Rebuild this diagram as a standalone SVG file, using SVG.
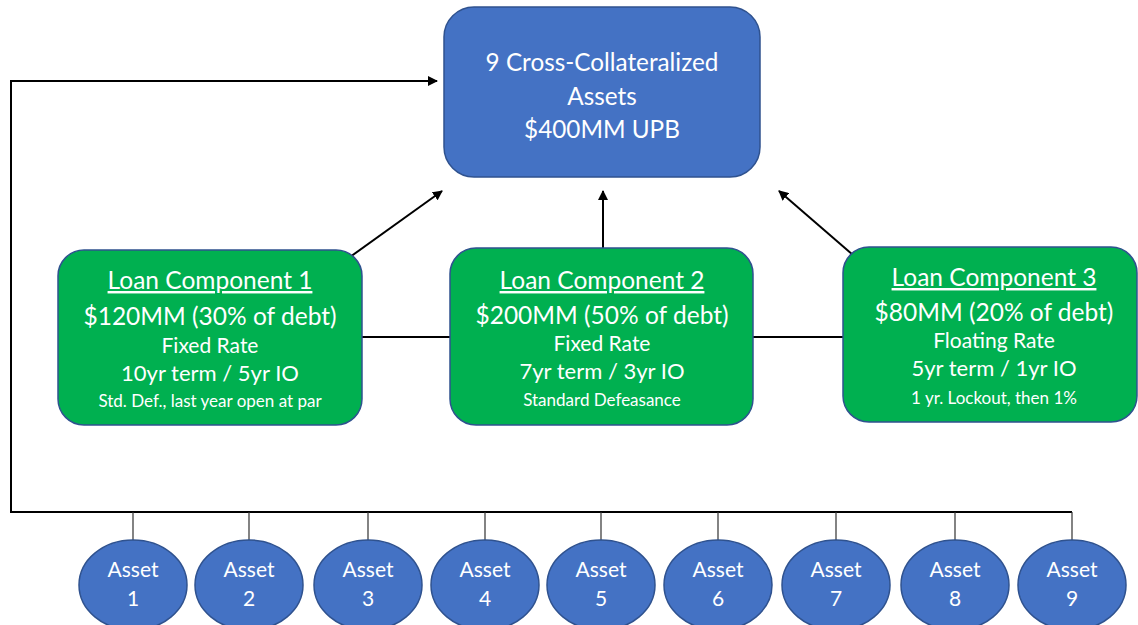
<svg xmlns="http://www.w3.org/2000/svg" width="1138" height="625" viewBox="0 0 1138 625">
<style>
.blue{fill:#4472C4;stroke:#2F528F;stroke-width:1.5}
.green{fill:#00B050;stroke:#2F528F;stroke-width:1.5}
text{font-family:Lato,"Liberation Sans",sans-serif;fill:#fff;text-anchor:middle}
.t1{font-size:24.3px}
.ttl{font-size:24.5px;text-decoration:underline}
.amt{font-size:24.5px}
.rate{font-size:21px}
.term{font-size:22px}
.sm{font-size:17px}
.as{font-size:21px}
.ln{stroke:#000;stroke-width:2;fill:none}
.drop{stroke:#333;stroke-width:1.2;fill:none}
</style>
<defs>
<marker id="ah" markerWidth="10" markerHeight="10" refX="9" refY="5" orient="auto" markerUnits="userSpaceOnUse">
<path d="M0,0 L10,5 L0,10 z" fill="#000"/>
</marker>
</defs>
<g id="connectors">
<path class="ln" d="M350,257 L442,191" marker-end="url(#ah)"/>
<path class="ln" d="M603,248 L603,191" marker-end="url(#ah)"/>
<path class="ln" d="M853,255 L779,191" marker-end="url(#ah)"/>
<path class="ln" d="M362,337 L450,337"/>
<path class="ln" d="M753,337 L843,337"/>
<path class="ln" d="M1072,512 L11,512 L11,81 L437,81" marker-end="url(#ah)"/>
<path class="drop" d="M133,512V540M249,512V540M368,512V540M485,512V540M601,512V540M718,512V540M836,512V540M955,512V540M1072,512V540"/>
</g>
<g id="top">
<rect class="blue" x="444" y="7" width="316" height="170" rx="30"/>
<text class="t1" x="602" y="71">9 Cross-Collateralized</text>
<text class="t1" x="602" y="105">Assets</text>
<text class="t1" x="602" y="138">$400MM UPB</text>
</g>
<g id="loan1">
<rect class="green" x="58" y="250" width="304" height="175" rx="26"/>
<text class="ttl" x="210" y="289">Loan Component 1</text>
<text class="amt" x="210" y="325">$120MM (30% of debt)</text>
<text class="rate" x="210" y="353">Fixed Rate</text>
<text class="term" x="210" y="381">10yr term / 5yr IO</text>
<text class="sm" x="210" y="407">Std. Def., last year open at par</text>
</g>
<g id="loan2">
<rect class="green" x="450" y="248" width="303" height="177" rx="26"/>
<text class="ttl" x="602" y="289">Loan Component 2</text>
<text class="amt" x="602" y="324">$200MM (50% of debt)</text>
<text class="rate" x="602" y="351">Fixed Rate</text>
<text class="term" x="602" y="379">7yr term / 3yr IO</text>
<text class="sm" x="602" y="406">Standard Defeasance</text>
</g>
<g id="loan3">
<rect class="green" x="843" y="247" width="294" height="175" rx="26"/>
<text class="ttl" x="994" y="286">Loan Component 3</text>
<text class="amt" x="994" y="321">$80MM (20% of debt)</text>
<text class="rate" x="994" y="348">Floating Rate</text>
<text class="term" x="994" y="376">5yr term / 1yr IO</text>
<text class="sm" x="994" y="404">1 yr. Lockout, then 1%</text>
</g>
<g id="asset1"><ellipse class="blue" cx="133" cy="585" rx="54" ry="45"/><text class="as" x="133" y="577">Asset</text><text class="as" x="133" y="606">1</text></g>
<g id="asset2"><ellipse class="blue" cx="249" cy="585" rx="54" ry="45"/><text class="as" x="249" y="577">Asset</text><text class="as" x="249" y="606">2</text></g>
<g id="asset3"><ellipse class="blue" cx="368" cy="585" rx="54" ry="45"/><text class="as" x="368" y="577">Asset</text><text class="as" x="368" y="606">3</text></g>
<g id="asset4"><ellipse class="blue" cx="485" cy="585" rx="54" ry="45"/><text class="as" x="485" y="577">Asset</text><text class="as" x="485" y="606">4</text></g>
<g id="asset5"><ellipse class="blue" cx="601" cy="585" rx="54" ry="45"/><text class="as" x="601" y="577">Asset</text><text class="as" x="601" y="606">5</text></g>
<g id="asset6"><ellipse class="blue" cx="718" cy="585" rx="54" ry="45"/><text class="as" x="718" y="577">Asset</text><text class="as" x="718" y="606">6</text></g>
<g id="asset7"><ellipse class="blue" cx="836" cy="585" rx="54" ry="45"/><text class="as" x="836" y="577">Asset</text><text class="as" x="836" y="606">7</text></g>
<g id="asset8"><ellipse class="blue" cx="955" cy="585" rx="54" ry="45"/><text class="as" x="955" y="577">Asset</text><text class="as" x="955" y="606">8</text></g>
<g id="asset9"><ellipse class="blue" cx="1072" cy="585" rx="54" ry="45"/><text class="as" x="1072" y="577">Asset</text><text class="as" x="1072" y="606">9</text></g>
</svg>
